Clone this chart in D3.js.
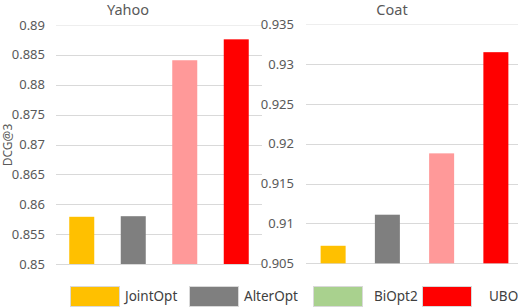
<!DOCTYPE html>
<html><head><meta charset="utf-8">
<script src="https://cdn.jsdelivr.net/npm/d3@7"></script>
<style>body{margin:0;background:#fff}svg{display:block;font-family:"Noto Sans","Open Sans",sans-serif}</style>
</head><body>
<svg id="c" width="518" height="308"></svg>
<script>
const methods = ["JointOpt","AlterOpt","BiOpt2","UBO"];
const barColors = ["#FFC000","#7F7F7F","#FF9999","#FF0000"];
const legendColors = ["#FFC000","#7F7F7F","#A9D18E","#FF0000"];
const yahooValues = [0.8579, 0.8580, 0.8841, 0.8876];
const coatValues = [0.9072, 0.9111, 0.9188, 0.9315];
const yahooTicks = [0.85,0.855,0.86,0.865,0.87,0.875,0.88,0.885,0.89];
const coatTicks = [0.905,0.91,0.915,0.92,0.925,0.93,0.935];
const yLabel = "DCG@3";

const svg = d3.select("#c");

function panel(title, values, ticks, x0, x1, yTop, yBot, labelX, barW, titleX){
  const g = svg.append("g");
  const y = d3.scaleLinear().domain([ticks[0], ticks[ticks.length-1]]).range([yBot, yTop]);
  const x = d3.scaleBand().domain(methods).range([x0, x1]).paddingInner(0).paddingOuter(0);
  ticks.forEach((t,i)=>{
    g.append("line").attr("x1",x0).attr("x2",Math.min(x1,518)).attr("y1",Math.round(y(t))+0.5).attr("y2",Math.round(y(t))+0.5)
      .attr("stroke", i===ticks.length-1 ? "#eeeeee" : "#d9d9d9").attr("stroke-width",1);
    g.append("text").attr("x",labelX).attr("y",y(t)).attr("dy","0.35em").attr("text-anchor","end")
      .attr("font-size",13).attr("fill","#595959").text(d3.format("")(t));
  });
  methods.forEach((m,i)=>{
    const cx = x(m) + x.bandwidth()/2;
    g.append("rect").attr("x",cx-barW/2).attr("width",barW)
      .attr("y",y(values[i])).attr("height",y(ticks[0])-y(values[i])).attr("fill",barColors[i]);
  });
  g.append("text").attr("x",titleX).attr("y",15).attr("text-anchor","middle").attr("font-size",14.5).attr("fill","#595959").text(title);
}

panel("Yahoo", yahooValues, yahooTicks, 56, 262, 25, 264, 45, 25, 128);
panel("Coat", coatValues, coatTicks, 306, 523, 24.3, 263.3, 294, 25, 392);

svg.append("text").attr("transform","translate(12,145) rotate(-90)").attr("text-anchor","middle")
  .attr("font-size",12).attr("fill","#595959").text(yLabel);

const legX = [70,189,313,422];
const legTextX = [125,244,374,489];
methods.forEach((m,i)=>{
  svg.append("rect").attr("x",legX[i]+0.5).attr("y",286.5).attr("width",49).attr("height",20)
    .attr("fill",legendColors[i]).attr("stroke","#d9d9d9").attr("stroke-width",1);
  svg.append("text").attr("x",legTextX[i]).attr("y",296).attr("dy","0.35em").attr("font-size",13.5).attr("fill","#404040").text(m);
});
</script>
</body></html>
